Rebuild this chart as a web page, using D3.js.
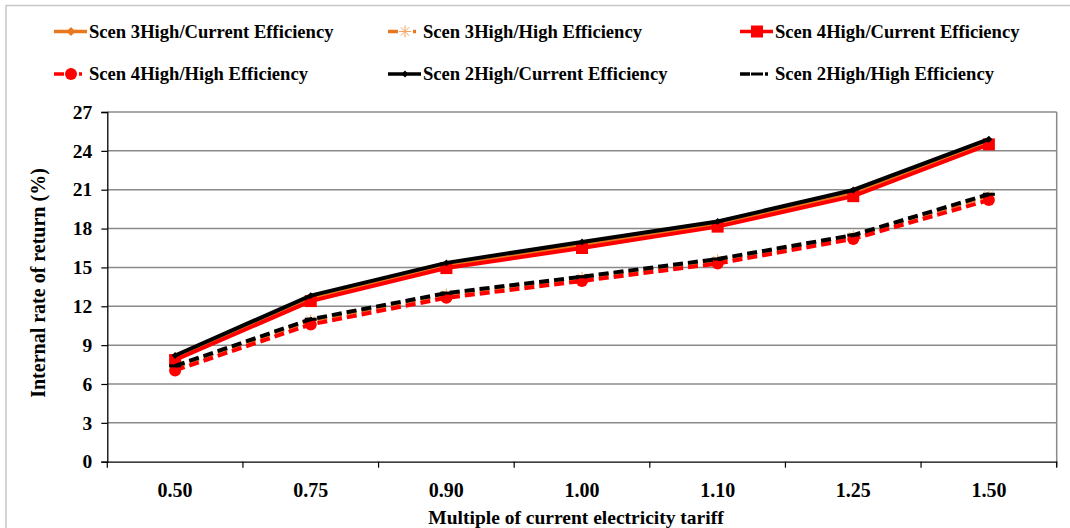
<!DOCTYPE html>
<html><head><meta charset="utf-8">
<script src="https://cdn.jsdelivr.net/npm/d3@7"></script>
<style>
html,body{margin:0;padding:0;background:#fff;overflow:hidden}
text{font-family:"Liberation Serif","Times New Roman",serif;font-weight:bold;fill:#000}
</style></head>
<body><svg id="c" width="1070" height="528"></svg>
<script>
const categories = ["0.50","0.75","0.90","1.00","1.10","1.25","1.50"];
const yTicks = [0,3,6,9,12,15,18,21,24,27];
const scen3Current = [8.0, 12.6, 15.15, 16.75, 18.35, 20.75, 24.7];
const scen3High    = [7.3, 10.9, 12.9, 14.2, 15.55, 17.4, 20.55];
const scen4Current = [7.85, 12.4, 14.95, 16.5, 18.15, 20.5, 24.5];
const scen4High    = [7.05, 10.6, 12.65, 13.95, 15.3, 17.2, 20.2];
const scen2Current = [8.2, 12.82, 15.35, 16.97, 18.55, 20.98, 24.9];
const scen2High    = [7.4, 11.0, 13.02, 14.28, 15.65, 17.5, 20.65];
const seriesNames = ["Scen 3High/Current Efficiency","Scen 3High/High Efficiency","Scen 4High/Current Efficiency",
                     "Scen 4High/High Efficiency","Scen 2High/Current Efficiency","Scen 2High/High Efficiency"];

const ORANGE="#E8771E", RED="#FF0000", BLACK="#000000";
const series = [
  {name:seriesNames[0], values:scen3Current, color:ORANGE, dash:null, marker:"diamond"},
  {name:seriesNames[1], values:scen3High, color:ORANGE, dash:"10,5", marker:"asterisk"},
  {name:seriesNames[2], values:scen4Current, color:RED, dash:null, marker:"square"},
  {name:seriesNames[3], values:scen4High, color:RED, dash:"10,5", marker:"circle"},
  {name:seriesNames[4], values:scen2Current, color:BLACK, dash:null, marker:"smalldiamond"},
  {name:seriesNames[5], values:scen2High, color:BLACK, dash:"10,5", marker:"bar"}
];

const svg = d3.select("#c");
svg.append("rect").attr("x",6).attr("y",5.5).attr("width",1080).attr("height",540)
  .attr("fill","none").attr("stroke","#c8c8c8").attr("stroke-width",1.5);

const L=107.3, R=1056.7, T=112, B=461.7;
const x = d3.scaleBand().domain(categories).range([L,R]);
const y = d3.scaleLinear().domain([0,27]).range([B,T]);

svg.append("g").selectAll("line").data(yTicks.filter(d=>d>0)).join("line")
  .attr("x1",L).attr("x2",R).attr("y1",d=>y(d)).attr("y2",d=>y(d))
  .attr("stroke","#8a8a8a").attr("stroke-width",1.5);
svg.append("line").attr("x1",R).attr("x2",R).attr("y1",T).attr("y2",B+5)
  .attr("stroke","#8a8a8a").attr("stroke-width",1.5);

const yAx = svg.append("g").attr("transform",`translate(${L},0)`)
  .call(d3.axisLeft(y).tickValues(yTicks).tickSize(6).tickPadding(9));
yAx.select(".domain").attr("stroke","#000").attr("stroke-width",1.3);
yAx.selectAll(".tick line").attr("stroke","#000").attr("stroke-width",1.2);
yAx.selectAll("text").style("font-size","19.5px").style("font-family","Liberation Serif").style("font-weight","bold");

const xAx = svg.append("g").attr("transform",`translate(0,${B})`)
  .call(d3.axisBottom(x).tickSize(0).tickPadding(21));
xAx.select(".domain").attr("stroke","#000").attr("stroke-width",1.3);
xAx.selectAll("text").style("font-size","20px").style("font-family","Liberation Serif").style("font-weight","bold");
const bounds = categories.map(c=>x(c)).concat([R]);
svg.append("g").selectAll("line").data(bounds).join("line")
  .attr("x1",d=>d).attr("x2",d=>d).attr("y1",B).attr("y2",B+6)
  .attr("stroke","#000").attr("stroke-width",1.2);

svg.append("text").attr("transform",`translate(45,283) rotate(-90)`)
  .attr("text-anchor","middle").style("font-size","20px").text("Internal rate of return (%)");
svg.append("text").attr("x",(L+R)/2-6).attr("y",524).attr("text-anchor","middle")
  .style("font-size","19.5px").text("Multiple of current electricity tariff");

function drawMarker(g, type, cx, cy, color){
  if(type==="diamond"){
    g.append("path").attr("d",d3.symbol(d3.symbolDiamond2,50)()).attr("transform",`translate(${cx},${cy})`).attr("fill",color);
  } else if(type==="smalldiamond"){
    g.append("path").attr("d",d3.symbol(d3.symbolDiamond2,30)()).attr("transform",`translate(${cx},${cy})`).attr("fill",color);
  } else if(type==="square"){
    g.append("rect").attr("x",cx-6).attr("y",cy-6).attr("width",12).attr("height",12).attr("fill",color);
  } else if(type==="circle"){
    g.append("circle").attr("cx",cx).attr("cy",cy).attr("r",6).attr("fill",color);
  } else if(type==="asterisk"){
    const a=g.append("g").attr("transform",`translate(${cx},${cy})`).attr("stroke","#F4A460").attr("stroke-width",1);
    [0,45,90,135].forEach(ang=>{const r=ang*Math.PI/180;
      a.append("line").attr("x1",-6*Math.cos(r)).attr("y1",-6*Math.sin(r)).attr("x2",6*Math.cos(r)).attr("y2",6*Math.sin(r));});
  } else if(type==="bar"){
    g.append("rect").attr("x",cx-6).attr("y",cy-1.5).attr("width",12).attr("height",3).attr("fill",color);
  }
}

const line = d3.line().x((d,i)=>x(categories[i])+x.bandwidth()/2).y(d=>y(d));
series.forEach(s=>{
  const g = svg.append("g");
  g.append("path").attr("d",line(s.values)).attr("fill","none").attr("stroke",s.color)
    .attr("stroke-width",4).attr("stroke-dasharray",s.dash);
  s.values.forEach((v,i)=>drawMarker(g,s.marker,x(categories[i])+x.bandwidth()/2,y(v),s.color));
});

const legPos = [[54,31.5],[388,31.5],[740,31.5],[54,74],[388,74],[740,74]];
series.forEach((s,i)=>{
  const [lx,ly]=legPos[i];
  const g=svg.append("g");
  if(s.dash){
    g.append("line").attr("x1",lx).attr("x2",lx+10).attr("y1",ly).attr("y2",ly).attr("stroke",s.color).attr("stroke-width",3.5);
    g.append("line").attr("x1",lx+25).attr("x2",lx+33).attr("y1",ly).attr("y2",ly).attr("stroke",s.color).attr("stroke-width",3.5).attr("stroke-dasharray","3,5");
  } else {
    g.append("line").attr("x1",lx).attr("x2",lx+33).attr("y1",ly).attr("y2",ly).attr("stroke",s.color).attr("stroke-width",3.5);
  }
  drawMarker(g, s.marker, lx+17, ly, s.color);
  g.append("text").attr("x",lx+35).attr("y",ly+6).style("font-size","18.6px").text(s.name);
});
</script></body></html>
